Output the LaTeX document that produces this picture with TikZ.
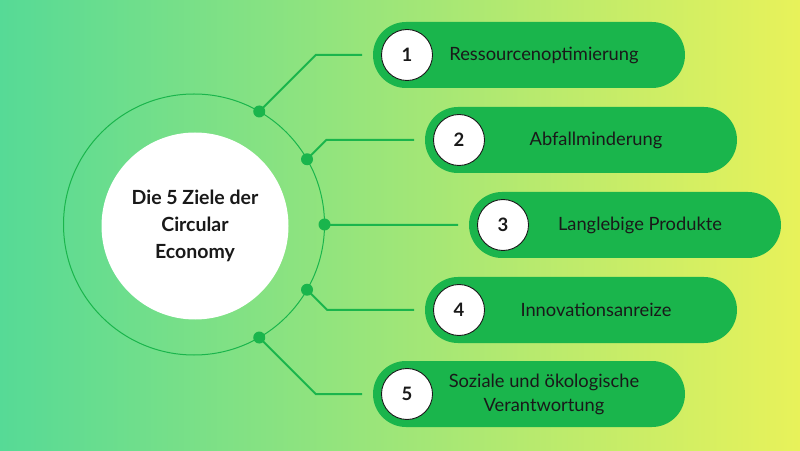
\documentclass[tikz,border=0pt]{standalone}
\usepackage{fontspec}
\setmainfont{Lato}
\usetikzlibrary{calc}
\definecolor{goalgreen}{RGB}{26,181,76}
\definecolor{bgleft}{RGB}{86,218,150}
\definecolor{bgmid}{RGB}{168,232,118}
\definecolor{bgright}{RGB}{232,242,90}
\definecolor{inkdark}{RGB}{25,25,25}
\begin{document}
\begin{tikzpicture}[x=1pt,y=1pt,
		pill/.style={fill=goalgreen,rounded corners=33pt,minimum width=312pt,minimum height=66pt,inner sep=0pt,outer sep=0pt},
		numdisc/.style={circle,fill=white,draw=inkdark,line width=0.9pt,minimum size=51pt,inner sep=0pt,
			font=\fontsize{18.5}{20}\selectfont\bfseries,text=inkdark},
		goaltext/.style={font=\fontsize{18.3}{24}\selectfont,text=inkdark,align=center},
		hubdot/.style={circle,fill=goalgreen,minimum size=12pt,inner sep=0pt}]
		% background
		\shade[left color=bgleft,middle color=bgmid,right color=bgright] (0,0) rectangle (800,450);
		\useasboundingbox (0,0) rectangle (800,450);
		% centre
		\node[circle,draw=goalgreen,line width=1pt,minimum size=261pt,inner sep=0pt,outer sep=0pt] (ring) at (194,225.5) {};
		\node[circle,fill=white,minimum size=187pt,inner sep=0pt,align=center,text=inkdark,
			font=\fontsize{19.5}{27}\selectfont\bfseries] (core) at (195,224) {Die 5 Ziele der\\Circular\\Economy};
		% goals
		\foreach \i/\px/\py/\goal in {1/373/395/{Ressourcenoptimierung},
				2/425/310/{Abfallminderung},
				3/469/225/{Langlebige Produkte},
				4/425/140/{Innovationsanreize},
				5/373/56/{Soziale und ökologische\\Verantwortung}}{
			\pgfmathtruncatemacro{\ang}{90-30*\i}
			\node[pill,anchor=west] (p\i) at (\px,\py) {};
			\node[numdisc] (n\i) at ([xshift=34pt]p\i.west) {\i};
			\node[goaltext] (t\i) at ([xshift=137pt]n\i.center) {\goal};
			\node[hubdot] (d\i) at (ring.\ang) {};
			\draw[goalgreen,line width=2pt] let \p1=(d\i.center), \p2=(p\i.west) in
				(d\i.center) -- ({\x1+abs(\y2-\y1)},\y2) -- ([xshift=-11pt]p\i.west);
		}
	\end{tikzpicture}
\end{document}
